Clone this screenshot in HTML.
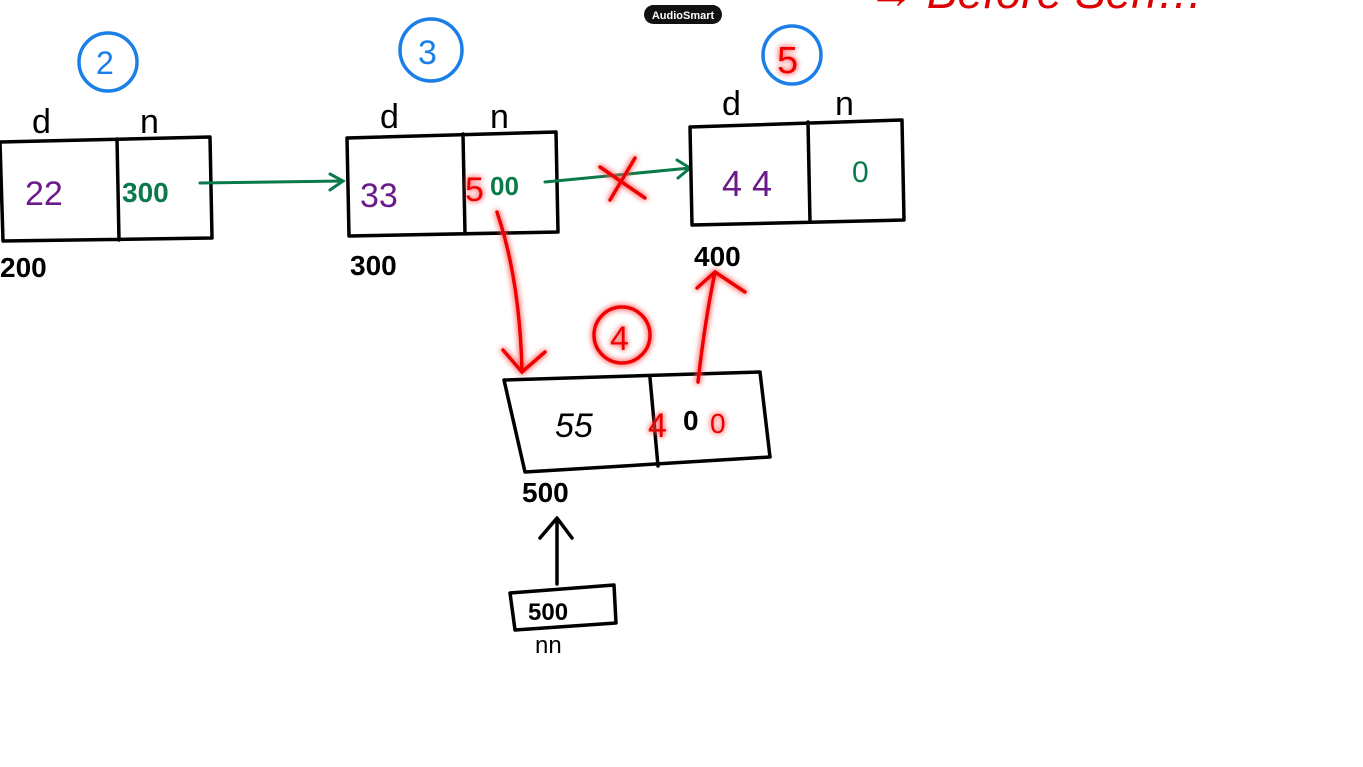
<!DOCTYPE html>
<html><head><meta charset="utf-8"><style>
html,body{margin:0;padding:0;background:#fff;width:1363px;height:767px;overflow:hidden}
svg{display:block}
text{font-family:"Liberation Sans",sans-serif}
.k{stroke:#000;stroke-width:3.5;fill:none;stroke-linecap:round;stroke-linejoin:round}
.g{stroke:#0a7a4a;stroke-width:3;fill:none;stroke-linecap:round}
.r{stroke:#e00;stroke-width:3.5;fill:none;stroke-linecap:round;filter:url(#glow)}
.b{stroke:#1a7fe8;stroke-width:3.5;fill:none}
.hw{font-weight:bold}
</style></head><body>
<svg width="1363" height="767" viewBox="0 0 1363 767">
<defs><filter id="glow" x="-50%" y="-50%" width="200%" height="200%"><feGaussianBlur stdDeviation="3" result="b"/><feFlood flood-color="#ff5050" flood-opacity="0.8"/><feComposite in2="b" operator="in" result="c"/><feMerge><feMergeNode in="c"/><feMergeNode in="c"/><feMergeNode in="SourceGraphic"/></feMerge></filter></defs>

<g>
<rect x="644" y="5" width="78" height="19" rx="9.5" fill="#111"/>
<text x="683" y="19" font-size="11" fill="#fff" text-anchor="middle" font-weight="bold">AudioSmart</text></g>

<text x="868" y="8" font-size="46" fill="#d00" font-style="italic">→ Before   Sen…</text>

<g>
<path class="k" d="M0 142 L210 137 L212 238 L3 241 Z M117 139 L119 240"/>
<text x="32" y="133" font-size="34">d</text>
<text x="140" y="133" font-size="34">n</text>
<text x="25" y="205" font-size="34" fill="#6a1a8a">22</text>
<text x="122" y="202" font-size="28" fill="#0a7a4a" class="hw">300</text>
<text x="0" y="277" font-size="28" class="hw">200</text>
<circle class="b" cx="108" cy="62" r="29"/>
<text x="96" y="74" font-size="32" fill="#1a7fe8">2</text></g>

<path class="g" d="M200 183 L343 181 M330 174 L343 181 L330 190"/>

<g>
<path class="k" d="M347 138 L556 132 L558 232 L349 236 Z M463 134 L465 234"/>
<text x="380" y="128" font-size="34">d</text>
<text x="490" y="128" font-size="34">n</text>
<text x="360" y="207" font-size="34" fill="#6a1a8a">33</text>
<g filter="url(#glow)"><text x="465" y="201" font-size="34" fill="#e00">5</text></g>
<text x="490" y="195" font-size="26" fill="#0a7a4a" class="hw">00</text>
<text x="350" y="275" font-size="28" class="hw">300</text>
<circle class="b" cx="431" cy="50" r="31"/>
<text x="418" y="64" font-size="34" fill="#1a7fe8">3</text></g>

<path class="g" d="M545 182 L690 168 M677 160 L690 168 L678 178"/>
<path class="r" d="M600 167 L645 198 M635 158 L610 200"/>

<g>
<path class="k" d="M690 127 L902 120 L904 220 L692 225 Z M808 122 L810 222"/>
<text x="722" y="115" font-size="34">d</text>
<text x="835" y="115" font-size="34">n</text>
<text x="722" y="196" font-size="36" fill="#6a1a8a">4 4</text>
<text x="852" y="182" font-size="30" fill="#0a7a4a">0</text>
<text x="694" y="266" font-size="28" class="hw">400</text>
<circle class="b" cx="792" cy="55" r="29"/>
<g filter="url(#glow)"><text x="777" y="73" font-size="38" fill="#e00">5</text></g></g>

<g>
<path class="k" d="M504 380 L760 372 L770 457 L525 472 Z M650 378 L658 466"/>
<text x="555" y="437" font-size="34" font-style="italic">55</text>
<g filter="url(#glow)"><text x="648" y="437" font-size="34" fill="#e00">4</text>
<text x="710" y="433" font-size="28" fill="#e00">0</text></g>
<text x="683" y="430" font-size="28" class="hw">0</text>
<text x="522" y="502" font-size="28" class="hw">500</text>
<circle class="r" cx="622" cy="335" r="28"/>
<g filter="url(#glow)"><text x="610" y="350" font-size="34" fill="#e00">4</text></g></g>

<path class="r" d="M497 212 Q520 280 522 372 M503 350 L522 372 L545 352"/>
<path class="r" d="M698 382 Q705 320 715 272 M697 288 L715 272 L745 292"/>

<path class="k" d="M557 584 L557 518 M540 538 L557 518 L572 538"/>
<g>
<path class="k" d="M510 593 L614 585 L616 623 L515 630 Z"/>
<text x="528" y="620" font-size="24" class="hw">500</text>
<text x="535" y="653" font-size="24">nn</text></g>
</svg>
</body></html>
